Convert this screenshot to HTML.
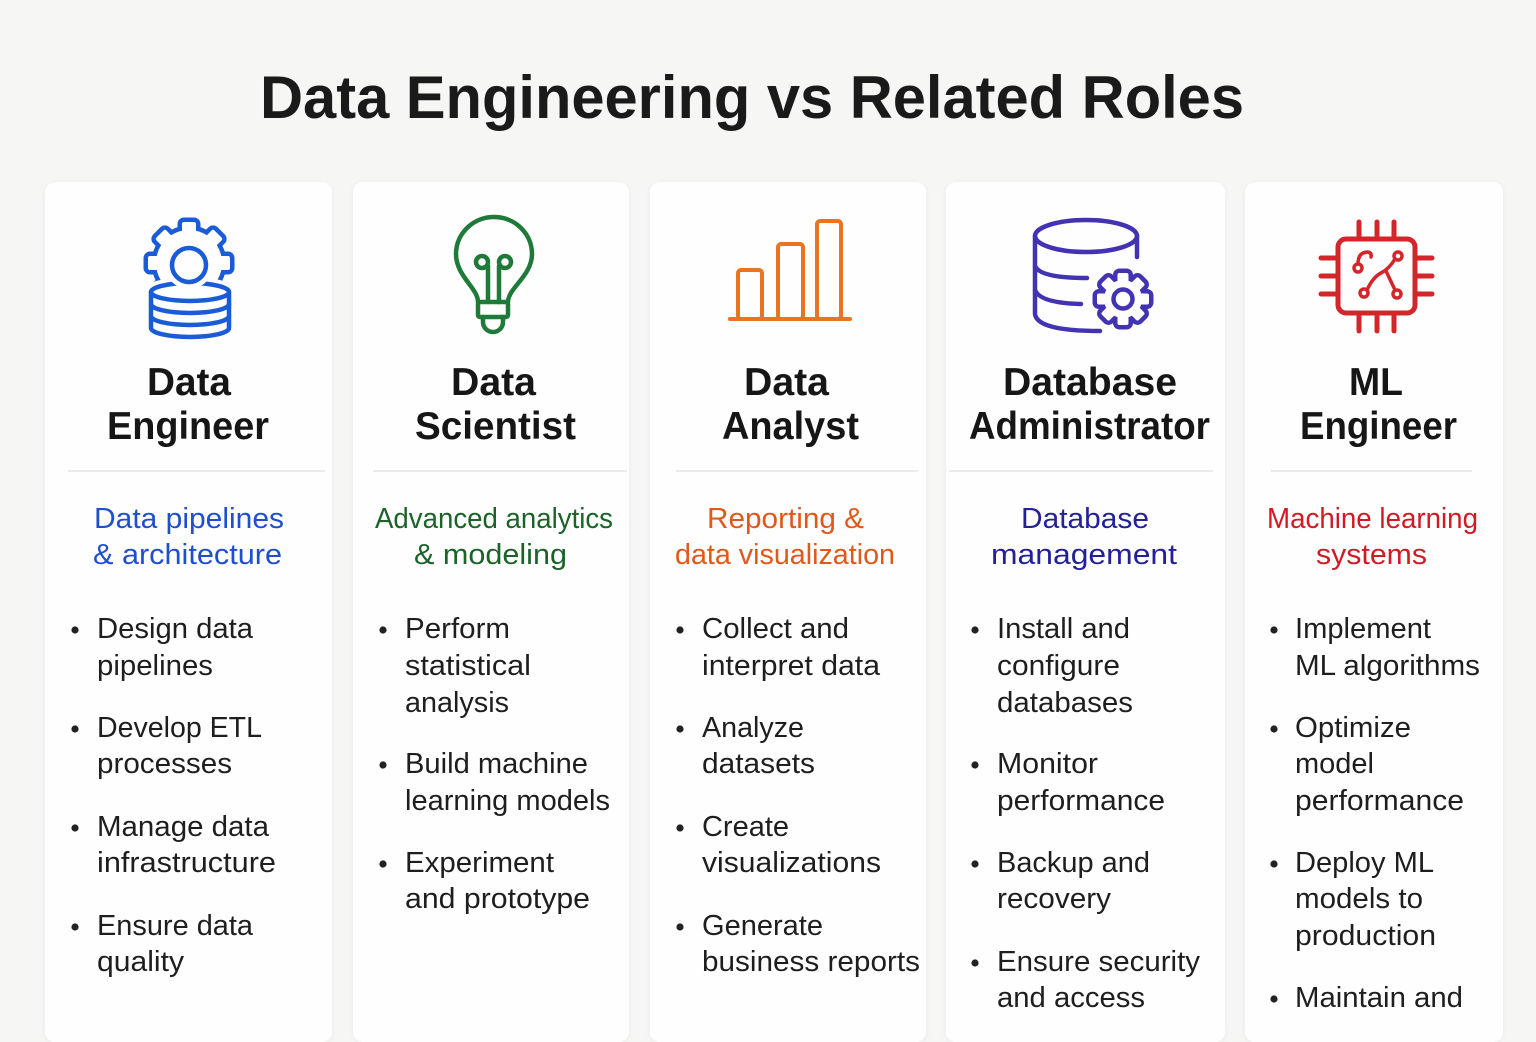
<!DOCTYPE html>
<html>
<head>
<meta charset="utf-8">
<style>
  html,body{margin:0;padding:0;}
  body{width:1536px;height:1024px;background:#f6f6f5;position:relative;overflow:hidden;font-family:"Liberation Sans",sans-serif;}
  .card{position:absolute;top:182px;height:860px;background:#fefefe;border-radius:10px;box-shadow:0 1px 6px rgba(0,0,0,0.05);}
  svg{position:absolute;left:0;top:0;}
  .h{font-family:"Liberation Sans",sans-serif;font-weight:bold;font-size:39px;fill:#161616;}
  .s{font-family:"Liberation Sans",sans-serif;font-size:29px;}
  .b{font-family:"Liberation Sans",sans-serif;font-size:29px;fill:#1e1e1e;}
</style>
</head>
<body>
<div class="card" style="left:45px;width:287px;"></div>
<div class="card" style="left:353px;width:276px;"></div>
<div class="card" style="left:650px;width:276px;"></div>
<div class="card" style="left:946px;width:279px;"></div>
<div class="card" style="left:1245px;width:258px;"></div>

<svg width="1536" height="1024" viewBox="0 0 1536 1024" xmlns="http://www.w3.org/2000/svg">
  <!-- Title -->
  <text x="260" y="118" font-family="Liberation Sans, sans-serif" font-weight="bold" font-size="60" fill="#1a1a1a" textLength="984" lengthAdjust="spacingAndGlyphs">Data Engineering vs Related Roles</text>

  <!-- ICON 1: gear + database (blue) -->
  <g stroke="#1a5cd8" stroke-width="4.5" fill="none" stroke-linejoin="round" stroke-linecap="round">
    <g stroke-width="9">
      <circle cx="189" cy="263" r="33"/>
      <g transform="translate(189,263)">
        <rect x="-7" y="-41" width="14" height="16" rx="2"/>
        <rect x="-7" y="-41" width="14" height="16" rx="2" transform="rotate(45)"/>
        <rect x="-7" y="-41" width="14" height="16" rx="2" transform="rotate(90)"/>
        <rect x="-7" y="-41" width="14" height="16" rx="2" transform="rotate(135)"/>
        <rect x="-7" y="-41" width="14" height="16" rx="2" transform="rotate(180)"/>
        <rect x="-7" y="-41" width="14" height="16" rx="2" transform="rotate(225)"/>
        <rect x="-7" y="-41" width="14" height="16" rx="2" transform="rotate(270)"/>
        <rect x="-7" y="-41" width="14" height="16" rx="2" transform="rotate(315)"/>
      </g>
    </g>
    <g fill="#fefefe" stroke="none">
      <circle cx="189" cy="263" r="33"/>
      <g transform="translate(189,263)">
        <rect x="-7" y="-41" width="14" height="16" rx="2"/>
        <rect x="-7" y="-41" width="14" height="16" rx="2" transform="rotate(45)"/>
        <rect x="-7" y="-41" width="14" height="16" rx="2" transform="rotate(90)"/>
        <rect x="-7" y="-41" width="14" height="16" rx="2" transform="rotate(135)"/>
        <rect x="-7" y="-41" width="14" height="16" rx="2" transform="rotate(180)"/>
        <rect x="-7" y="-41" width="14" height="16" rx="2" transform="rotate(225)"/>
        <rect x="-7" y="-41" width="14" height="16" rx="2" transform="rotate(270)"/>
        <rect x="-7" y="-41" width="14" height="16" rx="2" transform="rotate(315)"/>
      </g>
    </g>
    <!-- database with gap -->
    <path d="M151,292 L151,328 A38,9 0 0 0 229,328 L229,292 Z" fill="#fefefe" stroke="#fefefe" stroke-width="12"/>
    <ellipse cx="190" cy="292" rx="39" ry="9" fill="#fefefe" stroke="#fefefe" stroke-width="12"/>
    <path d="M151,292 L151,328 A39,9 0 0 0 229,328 L229,292" fill="#fefefe"/>
    <ellipse cx="190" cy="292" rx="39" ry="9" fill="#fefefe"/>
    <path d="M151,304 A39,9 0 0 0 229,304"/>
    <path d="M151,316 A39,9 0 0 0 229,316"/>
    <circle cx="189" cy="265" r="17" fill="#fefefe" stroke="#fefefe" stroke-width="14"/>
    <circle cx="189" cy="265" r="17"/>
  </g>

  <!-- ICON 2: lightbulb (green) -->
  <g stroke="#1f7a3a" stroke-width="4.5" fill="none" stroke-linejoin="round" stroke-linecap="round">
    <path d="M478,302 C478,288 456,276 456,254 A38,37 0 1 1 532,254 C532,276 508,288 508,302"/>
    <rect x="478" y="302" width="30" height="15" rx="2"/>
    <path d="M483,317 L483,322 A10,10 0 0 0 503,322 L503,317"/>
    <circle cx="482" cy="262" r="6"/>
    <circle cx="505" cy="262" r="6"/>
    <path d="M488,266 L488,302 M499,266 L499,302"/>
  </g>

  <!-- ICON 3: bar chart (orange) -->
  <g stroke="#eb7420" stroke-width="4" fill="none" stroke-linejoin="round" stroke-linecap="round">
    <rect x="738" y="270" width="24" height="49" rx="3"/>
    <rect x="778" y="244" width="25" height="75" rx="3"/>
    <rect x="817" y="221" width="24" height="98" rx="3"/>
    <path d="M730,319 L850,319"/>
  </g>

  <!-- ICON 4: database + gear (indigo) -->
  <g stroke="#4233b2" stroke-width="4.5" fill="none" stroke-linejoin="round" stroke-linecap="round">
    <ellipse cx="1086" cy="236" rx="51" ry="16"/>
    <path d="M1035,236 L1035,314 Q1037,331 1100,331"/>
    <path d="M1137,236 L1137,257"/>
    <path d="M1035,266 Q1040,278 1087,278"/>
    <path d="M1035,290 Q1040,303 1081,304"/>
    <!-- gear -->
    <g stroke="#fefefe" stroke-width="16">
      <circle cx="1123" cy="299" r="21"/>
    </g>
    <g stroke-width="9">
      <circle cx="1123" cy="299" r="19"/>
      <g transform="translate(1123,299)">
        <rect x="-5.5" y="-26" width="11" height="12" rx="2"/>
        <rect x="-5.5" y="-26" width="11" height="12" rx="2" transform="rotate(45)"/>
        <rect x="-5.5" y="-26" width="11" height="12" rx="2" transform="rotate(90)"/>
        <rect x="-5.5" y="-26" width="11" height="12" rx="2" transform="rotate(135)"/>
        <rect x="-5.5" y="-26" width="11" height="12" rx="2" transform="rotate(180)"/>
        <rect x="-5.5" y="-26" width="11" height="12" rx="2" transform="rotate(225)"/>
        <rect x="-5.5" y="-26" width="11" height="12" rx="2" transform="rotate(270)"/>
        <rect x="-5.5" y="-26" width="11" height="12" rx="2" transform="rotate(315)"/>
      </g>
    </g>
    <g fill="#fefefe" stroke="none">
      <circle cx="1123" cy="299" r="19"/>
      <g transform="translate(1123,299)">
        <rect x="-5.5" y="-26" width="11" height="12" rx="2"/>
        <rect x="-5.5" y="-26" width="11" height="12" rx="2" transform="rotate(45)"/>
        <rect x="-5.5" y="-26" width="11" height="12" rx="2" transform="rotate(90)"/>
        <rect x="-5.5" y="-26" width="11" height="12" rx="2" transform="rotate(135)"/>
        <rect x="-5.5" y="-26" width="11" height="12" rx="2" transform="rotate(180)"/>
        <rect x="-5.5" y="-26" width="11" height="12" rx="2" transform="rotate(225)"/>
        <rect x="-5.5" y="-26" width="11" height="12" rx="2" transform="rotate(270)"/>
        <rect x="-5.5" y="-26" width="11" height="12" rx="2" transform="rotate(315)"/>
      </g>
    </g>
    <circle cx="1123" cy="299" r="9.5"/>
  </g>

  <!-- ICON 5: chip (red) -->
  <g stroke="#d4262a" stroke-width="5" fill="none" stroke-linejoin="round" stroke-linecap="round">
    <rect x="1338" y="239" width="77" height="74" rx="8"/>
    <path d="M1359,222 L1359,239 M1377,222 L1377,239 M1394,222 L1394,239"/>
    <path d="M1359,313 L1359,331 M1377,313 L1377,331 M1394,313 L1394,331"/>
    <path d="M1321,258 L1338,258 M1321,276 L1338,276 M1321,294 L1338,294"/>
    <path d="M1415,258 L1432,258 M1415,276 L1432,276 M1415,294 L1432,294"/>
    <g stroke-width="3.5">
      <circle cx="1358" cy="268" r="4"/>
      <circle cx="1398" cy="256" r="4"/>
      <circle cx="1364" cy="293" r="4"/>
      <circle cx="1397" cy="294" r="4"/>
      <path d="M1367,290 Q1373,277 1381,273 Q1389,269 1395,259"/>
      <path d="M1386,271 L1395,290"/>
      <path d="M1358,264 Q1358,252 1368,252 Q1372,253 1371,257"/>
    </g>
  </g>

  <!-- Headings -->
  <text class="h" x="147" y="395" textLength="84" lengthAdjust="spacingAndGlyphs">Data</text>
  <text class="h" x="107" y="439" textLength="162" lengthAdjust="spacingAndGlyphs">Engineer</text>
  <text class="h" x="451" y="395" textLength="85" lengthAdjust="spacingAndGlyphs">Data</text>
  <text class="h" x="415" y="439" textLength="161" lengthAdjust="spacingAndGlyphs">Scientist</text>
  <text class="h" x="744" y="395" textLength="85" lengthAdjust="spacingAndGlyphs">Data</text>
  <text class="h" x="722" y="439" textLength="137" lengthAdjust="spacingAndGlyphs">Analyst</text>
  <text class="h" x="1003" y="395" textLength="174" lengthAdjust="spacingAndGlyphs">Database</text>
  <text class="h" x="969" y="439" textLength="241" lengthAdjust="spacingAndGlyphs">Administrator</text>
  <text class="h" x="1349" y="395" textLength="54" lengthAdjust="spacingAndGlyphs">ML</text>
  <text class="h" x="1300" y="439" textLength="157" lengthAdjust="spacingAndGlyphs">Engineer</text>

  <!-- Separators -->
  <g stroke="#ebebeb" stroke-width="2">
    <path d="M68,471 L325,471"/>
    <path d="M373,471 L627,471"/>
    <path d="M676,471 L918,471"/>
    <path d="M949,471 L1213,471"/>
    <path d="M1271,471 L1472,471"/>
  </g>

  <!-- Subtitles -->
  <g class="s">
    <text class="s" fill="#1f4fcf" x="94" y="528" textLength="190" lengthAdjust="spacingAndGlyphs">Data pipelines</text>
    <text class="s" fill="#1f4fcf" x="93" y="564" textLength="189" lengthAdjust="spacingAndGlyphs">&amp; architecture</text>
    <text class="s" fill="#1b6329" x="375" y="528" textLength="238" lengthAdjust="spacingAndGlyphs">Advanced analytics</text>
    <text class="s" fill="#1b6329" x="414" y="564" textLength="153" lengthAdjust="spacingAndGlyphs">&amp; modeling</text>
    <text class="s" fill="#e0581a" x="707" y="528" textLength="157" lengthAdjust="spacingAndGlyphs">Reporting &amp;</text>
    <text class="s" fill="#e0581a" x="675" y="564" textLength="220" lengthAdjust="spacingAndGlyphs">data visualization</text>
    <text class="s" fill="#23209a" x="1021" y="528" textLength="128" lengthAdjust="spacingAndGlyphs">Database</text>
    <text class="s" fill="#23209a" x="991" y="564" textLength="186" lengthAdjust="spacingAndGlyphs">management</text>
    <text class="s" fill="#d01a24" x="1267" y="528" textLength="211" lengthAdjust="spacingAndGlyphs">Machine learning</text>
    <text class="s" fill="#d01a24" x="1316" y="564" textLength="111" lengthAdjust="spacingAndGlyphs">systems</text>
  </g>

  <!-- Bullet dots -->
  <g fill="#222">
    <circle cx="75" cy="630" r="3.6"/><circle cx="75" cy="729" r="3.6"/><circle cx="75" cy="828" r="3.6"/><circle cx="75" cy="927" r="3.6"/>
    <circle cx="383" cy="630" r="3.6"/><circle cx="383" cy="765" r="3.6"/><circle cx="383" cy="864" r="3.6"/>
    <circle cx="680" cy="630" r="3.6"/><circle cx="680" cy="729" r="3.6"/><circle cx="680" cy="828" r="3.6"/><circle cx="680" cy="927" r="3.6"/>
    <circle cx="975" cy="630" r="3.6"/><circle cx="975" cy="765" r="3.6"/><circle cx="975" cy="864" r="3.6"/><circle cx="975" cy="963" r="3.6"/>
    <circle cx="1274" cy="630" r="3.6"/><circle cx="1274" cy="729" r="3.6"/><circle cx="1274" cy="864" r="3.6"/><circle cx="1274" cy="999" r="3.6"/>
  </g>

  <!-- Bullets card 1 -->
  <text class="b" x="97" y="638" textLength="156" lengthAdjust="spacingAndGlyphs">Design data</text>
  <text class="b" x="97" y="675" textLength="116" lengthAdjust="spacingAndGlyphs">pipelines</text>
  <text class="b" x="97" y="737" textLength="165" lengthAdjust="spacingAndGlyphs">Develop ETL</text>
  <text class="b" x="97" y="773" textLength="135" lengthAdjust="spacingAndGlyphs">processes</text>
  <text class="b" x="97" y="836" textLength="172" lengthAdjust="spacingAndGlyphs">Manage data</text>
  <text class="b" x="97" y="872" textLength="179" lengthAdjust="spacingAndGlyphs">infrastructure</text>
  <text class="b" x="97" y="935" textLength="156" lengthAdjust="spacingAndGlyphs">Ensure data</text>
  <text class="b" x="97" y="971" textLength="87" lengthAdjust="spacingAndGlyphs">quality</text>

  <!-- Bullets card 2 -->
  <text class="b" x="405" y="638" textLength="105" lengthAdjust="spacingAndGlyphs">Perform</text>
  <text class="b" x="405" y="675" textLength="126" lengthAdjust="spacingAndGlyphs">statistical</text>
  <text class="b" x="405" y="712" textLength="104" lengthAdjust="spacingAndGlyphs">analysis</text>
  <text class="b" x="405" y="773" textLength="183" lengthAdjust="spacingAndGlyphs">Build machine</text>
  <text class="b" x="405" y="810" textLength="205" lengthAdjust="spacingAndGlyphs">learning models</text>
  <text class="b" x="405" y="872" textLength="149" lengthAdjust="spacingAndGlyphs">Experiment</text>
  <text class="b" x="405" y="908" textLength="185" lengthAdjust="spacingAndGlyphs">and prototype</text>

  <!-- Bullets card 3 -->
  <text class="b" x="702" y="638" textLength="147" lengthAdjust="spacingAndGlyphs">Collect and</text>
  <text class="b" x="702" y="675" textLength="178" lengthAdjust="spacingAndGlyphs">interpret data</text>
  <text class="b" x="702" y="737" textLength="102" lengthAdjust="spacingAndGlyphs">Analyze</text>
  <text class="b" x="702" y="773" textLength="113" lengthAdjust="spacingAndGlyphs">datasets</text>
  <text class="b" x="702" y="836" textLength="87" lengthAdjust="spacingAndGlyphs">Create</text>
  <text class="b" x="702" y="872" textLength="179" lengthAdjust="spacingAndGlyphs">visualizations</text>
  <text class="b" x="702" y="935" textLength="121" lengthAdjust="spacingAndGlyphs">Generate</text>
  <text class="b" x="702" y="971" textLength="218" lengthAdjust="spacingAndGlyphs">business reports</text>

  <!-- Bullets card 4 -->
  <text class="b" x="997" y="638" textLength="133" lengthAdjust="spacingAndGlyphs">Install and</text>
  <text class="b" x="997" y="675" textLength="123" lengthAdjust="spacingAndGlyphs">configure</text>
  <text class="b" x="997" y="712" textLength="136" lengthAdjust="spacingAndGlyphs">databases</text>
  <text class="b" x="997" y="773" textLength="101" lengthAdjust="spacingAndGlyphs">Monitor</text>
  <text class="b" x="997" y="810" textLength="168" lengthAdjust="spacingAndGlyphs">performance</text>
  <text class="b" x="997" y="872" textLength="153" lengthAdjust="spacingAndGlyphs">Backup and</text>
  <text class="b" x="997" y="908" textLength="114" lengthAdjust="spacingAndGlyphs">recovery</text>
  <text class="b" x="997" y="971" textLength="203" lengthAdjust="spacingAndGlyphs">Ensure security</text>
  <text class="b" x="997" y="1007" textLength="148" lengthAdjust="spacingAndGlyphs">and access</text>

  <!-- Bullets card 5 -->
  <text class="b" x="1295" y="638" textLength="136" lengthAdjust="spacingAndGlyphs">Implement</text>
  <text class="b" x="1295" y="675" textLength="185" lengthAdjust="spacingAndGlyphs">ML algorithms</text>
  <text class="b" x="1295" y="737" textLength="116" lengthAdjust="spacingAndGlyphs">Optimize</text>
  <text class="b" x="1295" y="773" textLength="79" lengthAdjust="spacingAndGlyphs">model</text>
  <text class="b" x="1295" y="810" textLength="169" lengthAdjust="spacingAndGlyphs">performance</text>
  <text class="b" x="1295" y="872" textLength="139" lengthAdjust="spacingAndGlyphs">Deploy ML</text>
  <text class="b" x="1295" y="908" textLength="128" lengthAdjust="spacingAndGlyphs">models to</text>
  <text class="b" x="1295" y="945" textLength="141" lengthAdjust="spacingAndGlyphs">production</text>
  <text class="b" x="1295" y="1007" textLength="168" lengthAdjust="spacingAndGlyphs">Maintain and</text>
</svg>
</body>
</html>
